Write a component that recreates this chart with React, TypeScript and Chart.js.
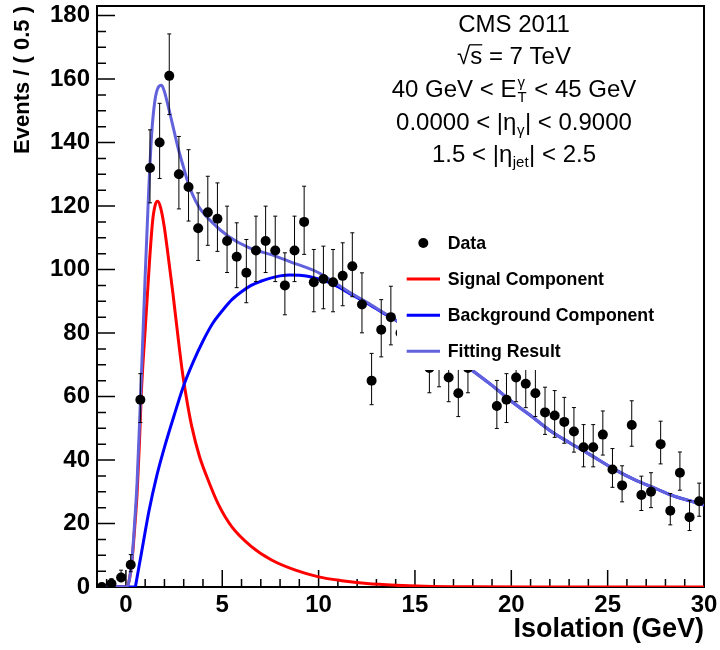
import { useEffect, useRef } from 'react';
import { Chart, registerables } from 'chart.js';

Chart.register(...registerables);

const FONT = '"Liberation Sans", Arial, Helvetica, sans-serif';

// ---- data ----
const binCenters = [
  -1.25, -0.75, -0.25, 0.25, 0.75, 1.25, 1.75, 2.25, 2.75, 3.25, 3.75, 4.25, 4.75,
  5.25, 5.75, 6.25, 6.75, 7.25, 7.75, 8.25, 8.75, 9.25, 9.75,
  10.25, 10.75, 11.25, 11.75, 12.25, 12.75, 13.25, 13.75, 14.25, 14.75,
  15.25, 15.75, 16.25, 16.75, 17.25, 17.75, 18.25, 18.75, 19.25, 19.75,
  20.25, 20.75, 21.25, 21.75, 22.25, 22.75, 23.25, 23.75, 24.25, 24.75,
  25.25, 25.75, 26.25, 26.75, 27.25, 27.75, 28.25, 28.75, 29.25, 29.75,
];
const counts = [
  0, 1, 3, 7, 59, 132, 140, 161, 130, 126, 113, 118, 116,
  109, 104, 99, 106, 109, 106, 95, 106, 115, 96,
  97, 96, 98, 101, 89, 65, 81, 85, 80, 80,
  79, 69, 71, 66, 61, 69, 78, 77, 57, 59,
  66, 64, 61, 55, 54, 52, 49, 44, 44, 48,
  37, 32, 51, 29, 30, 45, 24, 36, 22, 27,
];

const sigX = [-1.5, 0, 0.15, 0.32, 0.46, 0.58, 0.7, 0.8, 1.01, 1.23, 1.39, 1.52, 1.65, 1.8, 1.99, 2.22, 2.44, 2.7, 2.94, 3.2, 3.42, 3.8, 4.2, 4.8, 5.49, 6.5, 7.56, 8.8, 10, 11.2, 12.5, 14, 15.5, 18, 22, 30];
const sigY = [0, 0, 1.5, 8.5, 19, 29.5, 45, 61, 82, 103, 115.5, 120.3, 121.5, 119.5, 113.5, 103, 92.5, 79, 67.3, 57.5, 50.5, 41.5, 34.7, 26, 19, 12.8, 8.5, 5.3, 3.2, 2, 1.1, 0.55, 0.25, 0.08, 0.02, 0];

const bkgX = [-1.5, 0.49, 0.5, 0.8, 1.2, 1.6, 2.0, 2.5, 3.0, 3.5, 4.0, 4.5, 5.0, 5.5, 6.0, 6.5, 7.0, 7.5, 8.0, 8.5, 9.0, 9.5, 10.0, 10.5, 11.0, 11.6, 12.5, 13.3, 14.0, 15.0, 16.0, 17.0, 17.8, 19.0, 20.0, 21.0, 22.0, 23.0, 24.0, 25.4, 26.5, 27.5, 28.5, 29.7, 30];
const bkgY = [0, 0, 0.35, 10.5, 24, 35, 44, 54, 63.5, 71, 77.5, 83, 87, 90.5, 93, 95, 96.3, 97.3, 98, 98.3, 98.2, 97.8, 97, 96, 94.6, 92.5, 89.5, 86.5, 84, 80, 76.3, 72.5, 69, 63.5, 58.5, 54, 49.3, 45.5, 42, 36.9, 33.5, 31, 28.5, 26.4, 25.8];

const fitX = [-1.5, 0, 0.15, 0.32, 0.45, 0.58, 0.75, 0.9, 1.0, 1.17, 1.34, 1.5, 1.65, 1.85, 2.0, 2.11, 2.37, 2.72, 3.0, 3.24, 3.76, 4.45, 5.31, 6.35, 7.73, 8.5, 9.9, 10.5, 11.0, 11.6, 12.5, 13.3, 14.0, 15.0, 16.0, 17.0, 17.8, 19.0, 20.0, 21.0, 22.0, 23.0, 24.0, 25.4, 26.5, 27.5, 28.5, 29.7, 30];
const fitY = [0, 0, 1.5, 9, 20, 33, 58, 82, 98, 123, 143, 153, 157, 158, 156, 153.5, 147, 138, 132, 127, 120, 115, 110.5, 107, 104.3, 102.5, 99.3, 97.2, 95.2, 92.8, 89.7, 86.7, 84.1, 80, 76.3, 72.5, 69, 63.5, 58.5, 54, 49.3, 45.5, 42, 36.9, 33.5, 31, 28.5, 26.4, 25.8];

const xTickValues = [0, 5, 10, 15, 20, 25, 30];
const yTickValues = [0, 20, 40, 60, 80, 100, 120, 140, 160, 180];
const X_MIN = -1.5;
const X_MAX = 30;
const Y_MIN = 0;
const Y_MAX = 183;

const seriesLabels = ['Data', 'Signal Component', 'Background Component', 'Fitting Result'];
const seriesColors = ['#000000', '#ff0000', '#0000ff', '#6262dc'];

type Seg = { t: string; k: 'n' | 'sub' | 'ss' | 'ov'; t2?: string };
const annotationLines: Seg[][] = [
  [{ t: 'CMS 2011', k: 'n' }],
  [{ t: '\u221A', k: 'n' }, { t: 's', k: 'ov' }, { t: ' = 7 TeV', k: 'n' }],
  [{ t: '40 GeV < E', k: 'n' }, { t: '\u03B3', t2: 'T', k: 'ss' }, { t: ' < 45 GeV', k: 'n' }],
  [{ t: '0.0000 < |\u03B7', k: 'n' }, { t: '\u03B3', k: 'sub' }, { t: '| < 0.9000', k: 'n' }],
  [{ t: '1.5 < |\u03B7', k: 'n' }, { t: 'jet', k: 'sub' }, { t: '| < 2.5', k: 'n' }],
];

const ANN_SIZE = 24;
const SUB_SIZE = 15;
const ANN_CX = 514;
const annBaselines = [32, 64, 97, 130, 162];

function minorTicks(lo: number, hi: number, step: number, majors: number[]) {
  const out: number[] = [];
  for (let v = lo; v <= hi + 1e-9; v += step) {
    if (!majors.some((m) => Math.abs(m - v) < 1e-9)) out.push(v);
  }
  return out;
}

const framePlugin = {
  id: 'frame',
  beforeDatasetsDraw(chart: any) {
    const { ctx, chartArea, scales } = chart;
    const { left, right, top, bottom } = chartArea;
    const xs = scales.x;
    const ys = scales.y;
    ctx.save();
    ctx.strokeStyle = '#000';
    ctx.lineWidth = 1.5;
    ctx.beginPath();
    xTickValues.forEach((v) => {
      const p = xs.getPixelForValue(v);
      ctx.moveTo(p, bottom);
      ctx.lineTo(p, bottom - 17);
    });
    minorTicks(-1, 29, 1, xTickValues).forEach((v) => {
      const p = xs.getPixelForValue(v);
      ctx.moveTo(p, bottom);
      ctx.lineTo(p, bottom - 8);
    });
    yTickValues.forEach((v) => {
      const p = ys.getPixelForValue(v);
      ctx.moveTo(left, p);
      ctx.lineTo(left + 18, p);
    });
    minorTicks(5, 180, 5, yTickValues).forEach((v) => {
      const p = ys.getPixelForValue(v);
      ctx.moveTo(left, p);
      ctx.lineTo(left + 9, p);
    });
    ctx.stroke();
    ctx.lineWidth = 2;
    ctx.strokeRect(left, top, right - left, bottom - top);
    ctx.restore();
  },
  beforeDatasetDraw(chart: any, args: any) {
    if (args.index !== 0) return;
    const { ctx, scales } = chart;
    const xs = scales.x;
    const ys = scales.y;
    ctx.save();
    ctx.strokeStyle = '#000';
    ctx.lineWidth = 1;
    ctx.beginPath();
    counts.forEach((n, i) => {
      const r = Math.sqrt(n + 0.25);
      const hi = n + r + 0.5;
      const lo = n - (r - 0.5);
      const px = xs.getPixelForValue(binCenters[i]);
      const yt = ys.getPixelForValue(hi);
      const yb = ys.getPixelForValue(lo);
      ctx.moveTo(px, yt);
      ctx.lineTo(px, yb);
      ctx.moveTo(px - 2, yt);
      ctx.lineTo(px + 2, yt);
      ctx.moveTo(px - 2, yb);
      ctx.lineTo(px + 2, yb);
    });
    ctx.stroke();
    ctx.restore();
  },
  afterDatasetsDraw(chart: any) {
    const { ctx } = chart;
    ctx.save();
    // legend
    ctx.fillStyle = '#fff';
    ctx.fillRect(397, 222, 268, 148);
    const rows = [243, 279, 315.3, 351.3];
    seriesLabels.forEach((lab, i) => {
      const y = rows[i];
      if (i === 0) {
        ctx.fillStyle = seriesColors[0];
        ctx.beginPath();
        ctx.arc(423.3, y, 5, 0, Math.PI * 2);
        ctx.fill();
      } else {
        ctx.strokeStyle = seriesColors[i];
        ctx.lineWidth = 3;
        ctx.beginPath();
        ctx.moveTo(406.7, y);
        ctx.lineTo(440, y);
        ctx.stroke();
      }
      ctx.fillStyle = '#000';
      ctx.font = `bold 17.7px ${FONT}`;
      ctx.textAlign = 'left';
      ctx.textBaseline = 'middle';
      ctx.fillText(lab, 447.7, y + 1);
    });

    // annotations
    ctx.textBaseline = 'alphabetic';
    ctx.textAlign = 'left';
    ctx.fillStyle = '#000';
    ctx.strokeStyle = '#000';
    const big = `${ANN_SIZE}px ${FONT}`;
    const small = `${SUB_SIZE}px ${FONT}`;
    const segW = (s: Seg) => {
      if (s.k === 'n' || s.k === 'ov') {
        ctx.font = big;
        return ctx.measureText(s.t).width;
      }
      ctx.font = small;
      if (s.k === 'ss') return Math.max(ctx.measureText(s.t).width, ctx.measureText(s.t2 || '').width) + 2;
      return ctx.measureText(s.t).width + 1;
    };
    annotationLines.forEach((line, li) => {
      const base = annBaselines[li];
      const widths = line.map(segW);
      const total = widths.reduce((a, b) => a + b, 0);
      let x = ANN_CX - total / 2;
      line.forEach((s, si) => {
        if (s.k === 'n') {
          ctx.font = big;
          ctx.fillText(s.t, x, base);
        } else if (s.k === 'ov') {
          ctx.font = big;
          ctx.fillText(s.t, x, base);
          ctx.lineWidth = 1.3;
          ctx.beginPath();
          ctx.moveTo(x - 1, base - ANN_SIZE * 0.8);
          ctx.lineTo(x + widths[si], base - ANN_SIZE * 0.8);
          ctx.stroke();
        } else if (s.k === 'sub') {
          ctx.font = small;
          ctx.fillText(s.t, x + 0.5, base + 5);
        } else {
          ctx.font = small;
          ctx.fillText(s.t, x + 1, base - 10);
          ctx.fillText(s.t2 || '', x + 1, base + 5);
        }
        x += widths[si];
      });
    });
    ctx.restore();
  },
};

export default function App() {
  const ref = useRef<HTMLCanvasElement | null>(null);
  useEffect(() => {
    document.body.style.margin = '0';
    const canvas = ref.current;
    if (!canvas) return;
    const toXY = (xs: number[], ys: number[]) => xs.map((x, i) => ({ x, y: ys[i] }));
    const chart = new Chart(canvas, {
      type: 'line',
      data: {
        datasets: [
          {
            label: seriesLabels[0],
            data: toXY(binCenters, counts),
            showLine: false,
            pointRadius: 5,
            pointBackgroundColor: seriesColors[0],
            pointBorderWidth: 0,
            borderColor: seriesColors[0],
            order: 0,
          },
          {
            label: seriesLabels[3],
            data: toXY(fitX, fitY),
            borderColor: seriesColors[3],
            borderWidth: 3,
            pointRadius: 0,
            cubicInterpolationMode: 'monotone',
            fill: false,
            order: 1,
          },
          {
            label: seriesLabels[2],
            data: toXY(bkgX, bkgY),
            borderColor: seriesColors[2],
            borderWidth: 3,
            pointRadius: 0,
            cubicInterpolationMode: 'monotone',
            fill: false,
            order: 2,
          },
          {
            label: seriesLabels[1],
            data: toXY(sigX, sigY),
            borderColor: seriesColors[1],
            borderWidth: 3,
            pointRadius: 0,
            cubicInterpolationMode: 'monotone',
            fill: false,
            order: 3,
          },
        ] as any,
      },
      options: {
        responsive: false,
        animation: false,
        devicePixelRatio: 1,
        events: [],
        layout: { padding: { top: 6, right: 16, left: 0, bottom: 0 } },
        plugins: { legend: { display: false }, tooltip: { enabled: false } },
        scales: {
          x: {
            type: 'linear',
            min: X_MIN,
            max: X_MAX,
            grid: { display: false, drawTicks: false },
            border: { display: false },
            afterBuildTicks: (s: any) => {
              s.ticks = xTickValues.map((v) => ({ value: v }));
            },
            afterFit: (s: any) => {
              s.height = 63;
              s.paddingLeft = 0;
              s.paddingRight = 0;
            },
            ticks: {
              autoSkip: false,
              maxRotation: 0,
              minRotation: 0,
              padding: 4,
              color: '#000',
              font: { family: FONT, size: 24, weight: 'bold' },
              callback: (v: any) => String(v),
            },
            title: {
              display: true,
              text: 'Isolation (GeV)',
              align: 'end',
              color: '#000',
              font: { family: FONT, size: 27, weight: 'bold' },
              padding: { top: 0, bottom: 4 },
            },
          },
          y: {
            type: 'linear',
            min: Y_MIN,
            max: Y_MAX,
            grid: { display: false, drawTicks: false },
            border: { display: false },
            afterBuildTicks: (s: any) => {
              s.ticks = yTickValues.map((v) => ({ value: v }));
            },
            afterFit: (s: any) => {
              s.width = 97;
              s.paddingTop = 0;
              s.paddingBottom = 0;
            },
            ticks: {
              padding: 7,
              color: '#000',
              font: { family: FONT, size: 24, weight: 'bold' },
              callback: (v: any) => String(v),
            },
            title: {
              display: true,
              text: 'Events / ( 0.5 )',
              align: 'end',
              color: '#000',
              font: { family: FONT, size: 22, weight: 'bold' },
              padding: { top: 10, bottom: 0 },
            },
          },
        },
      } as any,
      plugins: [framePlugin],
    });
    return () => chart.destroy();
  }, []);
  return <canvas ref={ref} width={720} height={650} style={{ display: 'block' }} />;
}
